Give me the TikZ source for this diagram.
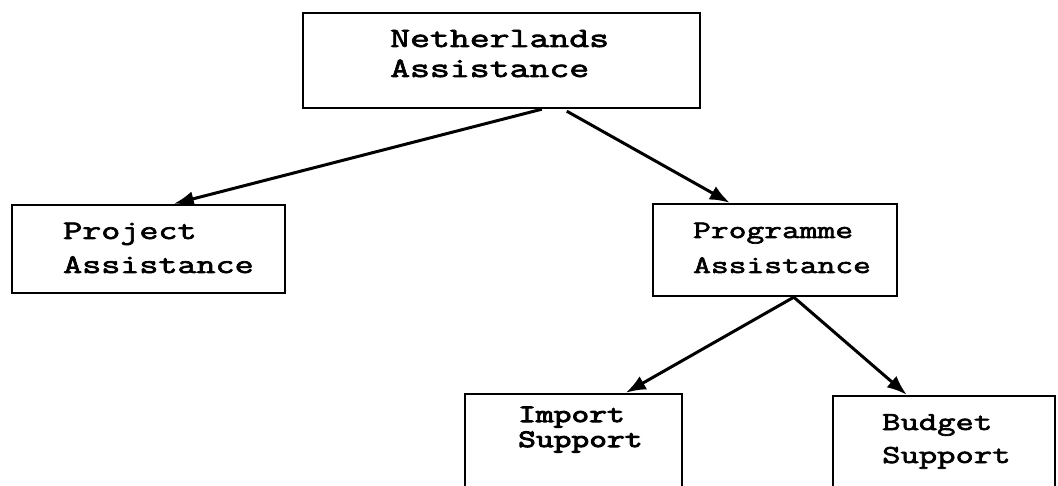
\documentclass[tikz,border=0pt]{standalone}
\usepackage{fontspec}
\usetikzlibrary{arrows.meta,calc}
% typewriter face, widened like an old office typewriter
\newfontfamily\twfont[FakeStretch=1.38,FakeBold=2.6]{Latin Modern Mono}
\newfontfamily\twfontheavy[FakeStretch=1.38,FakeBold=4]{Latin Modern Mono}
\newcommand{\twolines}[2]{\begin{tabular}[t]{@{}l@{}}#1\\#2\end{tabular}}
\begin{document}
\begin{tikzpicture}[x=1pt,y=-1pt,
  box/.style={draw, line width=2.4pt, rectangle, inner sep=0pt},
  label/.style={anchor=base west, inner sep=0pt},
  link/.style={line width=3pt, -{Latex[length=20pt,width=15pt]}}]
  \useasboundingbox (0,0) rectangle (1058,486);
  \clip (0,0) rectangle (1058,486);

  % boxes
  \node[box, minimum width=397pt, minimum height=95pt] (net) at (501.5,60.5) {};
  \node[box, minimum width=273pt, minimum height=88pt] (proj) at (148.5,249) {};
  \node[box, minimum width=244pt, minimum height=92pt] (prog) at (775,250) {};
  \node[box, minimum width=217pt, minimum height=110pt] (imp) at (573.5,449) {};
  \node[box, minimum width=222pt, minimum height=104pt] (bud) at (944,448) {};

  % box texts
  \node[label] (netT) at (390,47)
    {\fontsize{28}{30}\selectfont\twfont\twolines{Netherlands}{Assistance}};
  \node[label] (projT) at (63,239)
    {\fontsize{26.8}{34}\selectfont\twfont\twolines{Project}{Assistance}};
  \node[label] (progT) at (693,238)
    {\fontsize{25}{35}\selectfont\twfont\twolines{Programme}{Assistance}};
  \node[label] (impT) at (518,422)
    {\fontsize{25}{25}\selectfont\twfontheavy\twolines{Import}{Support}};
  \node[label] (budT) at (882,430)
    {\fontsize{25.8}{33}\selectfont\twfont\twolines{Budget}{Support}};

  % connectors
  \draw[link] ($(net.south west)+(240,0)$) -- ($(proj.north west)+(163,0)$);
  \draw[link] ($(net.south west)+(265,2)$) -- ($(prog.north west)+(78,0)$);
  \draw[link] ($(prog.south west)+(142,0)$) -- ($(imp.north west)+(162,0)$);
  \draw[link] ($(prog.south west)+(142,0)$) -- ($(bud.north west)+(75,0)$);
\end{tikzpicture}
\end{document}
